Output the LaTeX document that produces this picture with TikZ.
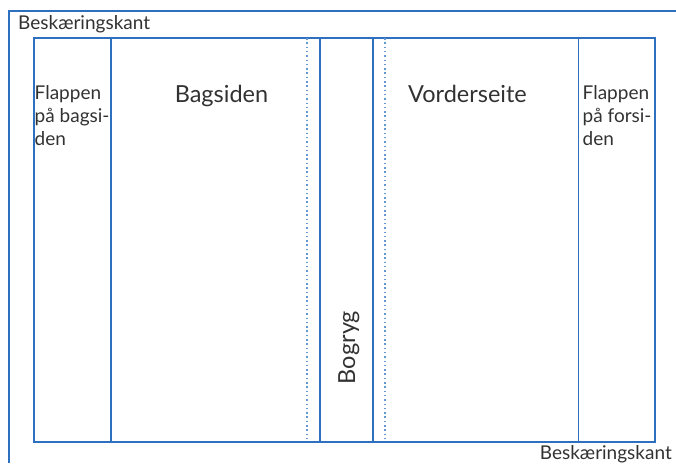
\documentclass[tikz,border=0pt]{standalone}
\usepackage{fontspec}
\setmainfont{Lato}
\definecolor{trim}{RGB}{46,112,192}
\definecolor{fold}{RGB}{100,150,210}
\definecolor{ink}{RGB}{50,50,50}
\begin{document}
\begin{tikzpicture}[x=1pt,y=-1pt,
  edge/.style={draw=trim,line width=1.1pt},
  foldline/.style={draw=fold,line width=1.4pt,dash pattern=on 1.5pt off 2.8pt},
  small/.style={font=\fontsize{19}{23}\selectfont,text=ink,inner sep=0pt},
  big/.style={font=\fontsize{23.5}{28}\selectfont,text=ink,inner sep=0pt}]
\useasboundingbox (0,0) rectangle (676,463);
% outer trim line (partly outside the picture)
\draw[edge] (676,11) -- (9,11) -- (9,463);
% inner page
\draw[edge] (34,38) rectangle (655,442);
\draw[edge] (111,38) -- (111,442);
\draw[edge] (320,38) -- (320,442);
\draw[edge] (373,38) -- (373,442);
\draw[edge] (578.5,38) -- (578.5,442);
\draw[foldline] (307,38) -- (307,442);
\draw[foldline] (385,38) -- (385,442);
% labels
\node[small,anchor=base west] (trimtop) at (18,29.5) {Beskæringskant};
\node[small,anchor=base east] (trimbot) at (672,459.5) {Beskæringskant};
\node[small,anchor=base west] (fl1) at (34.5,99.5) {Flappen};
\node[small,anchor=base west] (fl2) at (34.5,122.5) {på bagsi-};
\node[small,anchor=base west] (fl3) at (34.5,145.5) {den};
\node[small,anchor=base west] (fr1) at (582.5,99.5) {Flappen};
\node[small,anchor=base west] (fr2) at (582.5,122.5) {på forsi-};
\node[small,anchor=base west] (fr3) at (582.5,145.5) {den};
\node[big,anchor=base] (back) at (221.5,102) {Bagsiden};
\node[big,anchor=base] (front) at (467.5,102) {Vorderseite};
\node[big,anchor=base,rotate=90] (spine) at (355,347.5) {Bogryg};
\end{tikzpicture}
\end{document}
